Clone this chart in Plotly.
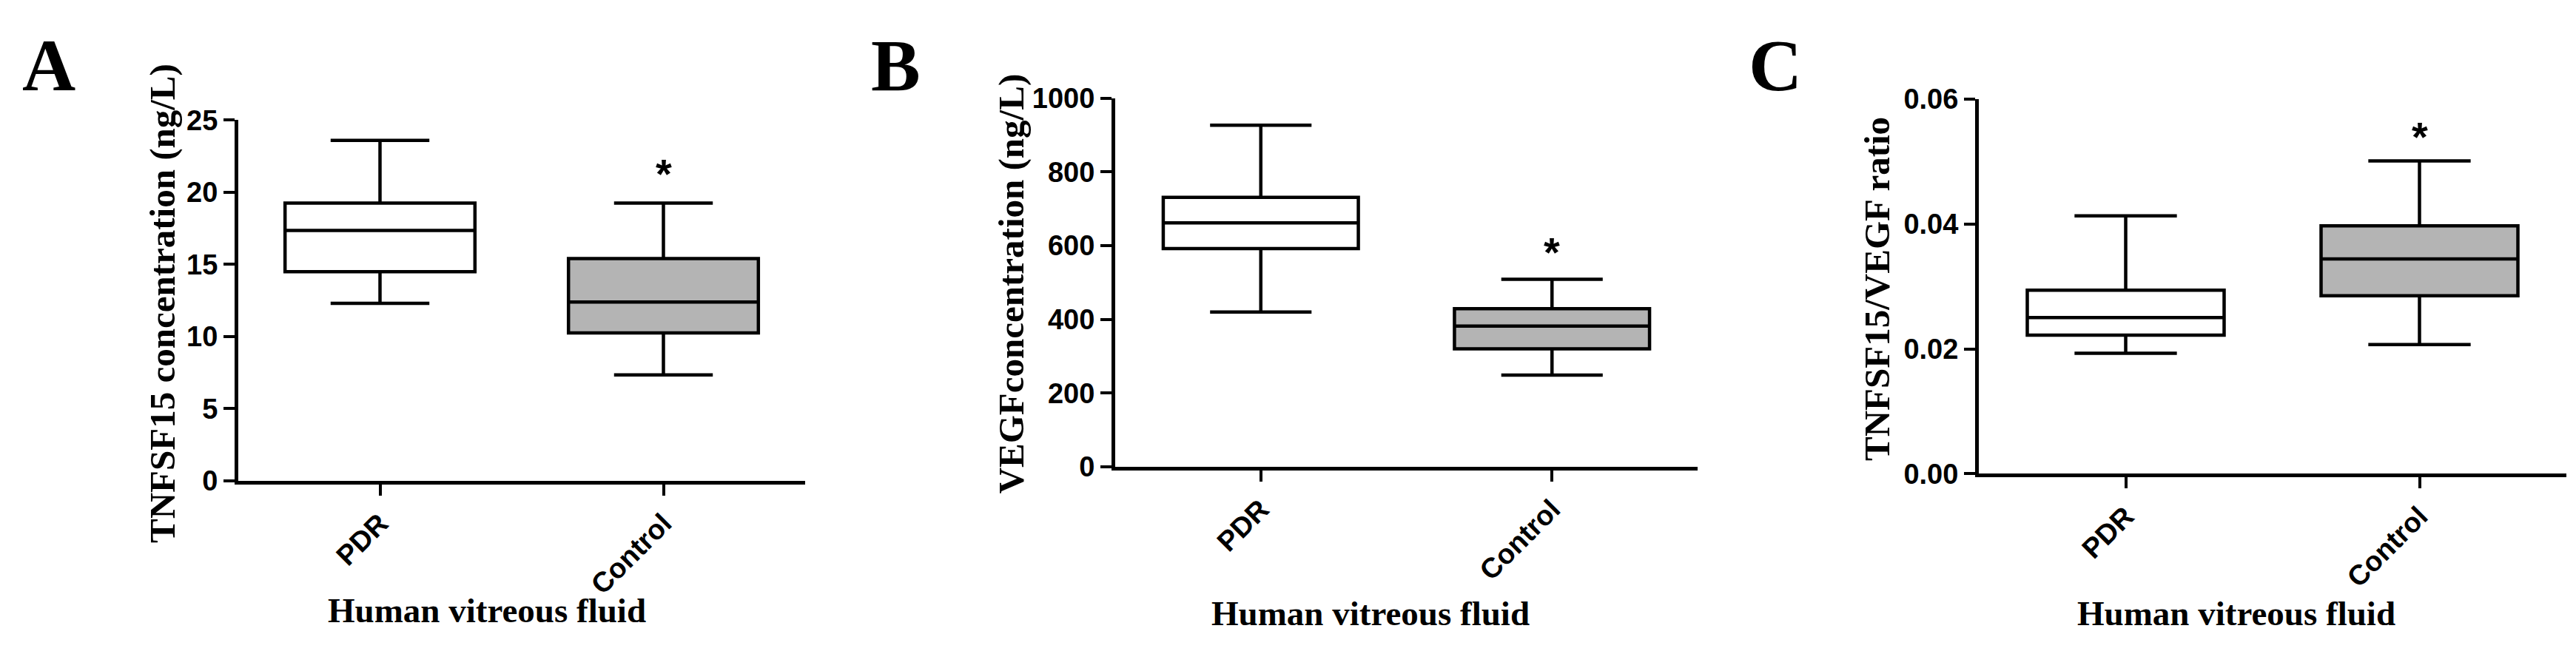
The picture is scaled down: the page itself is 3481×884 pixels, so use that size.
import plotly.graph_objects as go

W, H = 3481, 884

categories = ["PDR", "Control"]

# Panel A: TNFSF15 concentration (ng/L)
a_lower = [12.3, 7.35]
a_q1 = [14.5, 10.25]
a_median = [17.35, 12.4]
a_q3 = [19.25, 15.4]
a_upper = [23.6, 19.25]
a_star = 21.7

# Panel B: VEGF concentration (ng/L)
b_lower = [420, 249]
b_q1 = [592, 320]
b_median = [662, 382]
b_q3 = [731, 429]
b_upper = [927, 509]
b_star = 599

# Panel C: TNFSF15/VEGF ratio
c_lower = [0.0193, 0.0207]
c_q1 = [0.0222, 0.0285]
c_median = [0.0250, 0.0344]
c_q3 = [0.0294, 0.0397]
c_upper = [0.0413, 0.0501]
c_star = 0.055

fills = ["#ffffff", "#b4b4b4"]

panels = [
    dict(letter="A", lower=a_lower, q1=a_q1, med=a_median, q3=a_q3, up=a_upper, star=a_star,
         yrange=[0, 25], dtick=5, fmt="", ytitle="TNFSF15 concentration (ng/L)",
         px=(314, 1080), py=(140, 652), ytx=212, yty=400, xtx=650, xty=836, lx=20),
    dict(letter="B", lower=b_lower, q1=b_q1, med=b_median, q3=b_q3, up=b_upper, star=b_star,
         yrange=[0, 1000], dtick=200, fmt="", ytitle="VEGFconcentration (ng/L)",
         px=(1499, 2286), py=(109, 632), ytx=1358, yty=372, xtx=1844, xty=840, lx=1167),
    dict(letter="C", lower=c_lower, q1=c_q1, med=c_median, q3=c_q3, up=c_upper, star=c_star,
         yrange=[0, 0.06], dtick=0.02, fmt=".2f", ytitle="TNFSF15/VEGF ratio",
         px=(2666, 3460), py=(110, 642), ytx=2529, yty=380, xtx=3014, xty=840, lx=2353),
]

tick_font = dict(family="Liberation Sans", size=38, color="black", weight="bold")
title_font_y = dict(family="Liberation Serif", size=49, color="black", weight="bold")
title_font_x = dict(family="Liberation Serif", size=47, color="black", weight="bold")

fig = go.Figure()
annotations = []
layout = {}

for i, p in enumerate(panels):
    n = "" if i == 0 else str(i + 1)
    xa, ya = "x" + n, "y" + n
    for j, cat in enumerate(categories):
        fig.add_trace(go.Box(
            x=[cat], q1=[p["q1"][j]], median=[p["med"][j]], q3=[p["q3"][j]],
            lowerfence=[p["lower"][j]], upperfence=[p["up"][j]],
            xaxis=xa, yaxis=ya, width=0.67, whiskerwidth=0.52,
            fillcolor=fills[j], line=dict(color="black", width=4.5),
            boxpoints=False, showlegend=False, hoverinfo="skip",
        ))
    layout["xaxis" + n] = dict(
        domain=[p["px"][0] / W, p["px"][1] / W], anchor=ya,
        type="category", categoryorder="array", categoryarray=categories,
        range=[-0.5, 1.5], showline=True, linecolor="black", linewidth=5,
        ticks="outside", ticklen=15, tickwidth=4, tickcolor="black",
        tickangle=-45, tickfont=tick_font, showgrid=False, zeroline=False,
        fixedrange=True,
    )
    layout["yaxis" + n] = dict(
        domain=[1 - p["py"][1] / H, 1 - p["py"][0] / H], anchor=xa,
        range=p["yrange"], dtick=p["dtick"], tick0=0, tickformat=p["fmt"],
        showline=True, linecolor="black", linewidth=5,
        ticks="outside", ticklen=15, tickwidth=4, tickcolor="black",
        tickfont=tick_font, showgrid=False, zeroline=False, fixedrange=True,
    )
    annotations.append(dict(
        text="*", x="Control", y=p["star"], xref=xa, yref=ya,
        showarrow=False, yanchor="middle", yshift=-8,
        font=dict(family="Liberation Sans", size=56, color="black", weight="bold"),
    ))
    annotations.append(dict(
        text=p["ytitle"], x=p["ytx"] / W, y=1 - p["yty"] / H, xref="paper", yref="paper",
        textangle=-90, showarrow=False, xanchor="center", yanchor="middle", font=title_font_y,
    ))
    annotations.append(dict(
        text="Human vitreous fluid", x=p["xtx"] / W, y=1 - p["xty"] / H, xref="paper", yref="paper",
        showarrow=False, xanchor="center", yanchor="middle", font=title_font_x,
    ))
    annotations.append(dict(
        text=p["letter"], x=p["lx"] / W, y=1 - 62 / H, xref="paper", yref="paper",
        showarrow=False, xanchor="left", yanchor="middle",
        font=dict(family="Liberation Serif", size=100, color="black", weight="bold"),
    ))

fig.update_layout(
    width=W, height=H, margin=dict(l=0, r=0, t=0, b=0),
    paper_bgcolor="white", plot_bgcolor="white",
    annotations=annotations, **layout,
)

fig.write_html("out.html", config={"displayModeBar": False})
